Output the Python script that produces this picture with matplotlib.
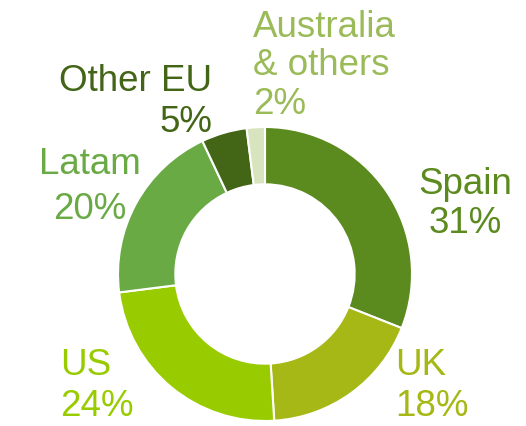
import matplotlib.pyplot as plt

# === ДАННЫЕ ===
regions = ["Spain", "UK", "US", "Latam", "Other EU", "Australia\n& others"]
shares = [31, 18, 24, 20, 5, 2]
wedge_colors = ["#5B8A1E", "#A5B815", "#99CC00", "#6AAA45", "#436516", "#D7E4BD"]
text_colors = ["#5B8A1E", "#A5B815", "#99CC00", "#6AAA45", "#436516", "#9BBB59"]

# позиции подписей в пикселях (x, y сверху), выравнивание, межстрочный интервал
W, H = 526, 427
label_pos = [(465, 204, "center", 1.12), (395, 386, "left", 1.22),
             (60, 386, "left", 1.22), (90, 187, "center", 1.35),
             (212, 102, "right", 1.25), (253, 66, "left", 1.12)]

plt.rcParams["font.family"] = ["Liberation Sans", "DejaVu Sans"]

fig = plt.figure(figsize=(W / 100, H / 100), dpi=100)
cx, cy, r = 265, 275, 147
ax = fig.add_axes([(cx - r) / W, (H - cy - r) / H, 2 * r / W, 2 * r / H])

ax.pie(shares, colors=wedge_colors, startangle=90, counterclock=False,
       radius=1, wedgeprops=dict(width=0.39, edgecolor="white", linewidth=1.5))
ax.set_xlim(-1, 1)
ax.set_ylim(-1, 1)
ax.set_aspect("equal")
ax.axis("off")

for name, val, col, (px, py, ha, ls) in zip(regions, shares, text_colors, label_pos):
    fig.text(px / W, 1 - py / H, f"{name}\n{val}%", color=col, fontsize=26.5,
             ha=ha, va="center", multialignment=ha, linespacing=ls)

plt.savefig("out.png", dpi=100)
plt.close()
